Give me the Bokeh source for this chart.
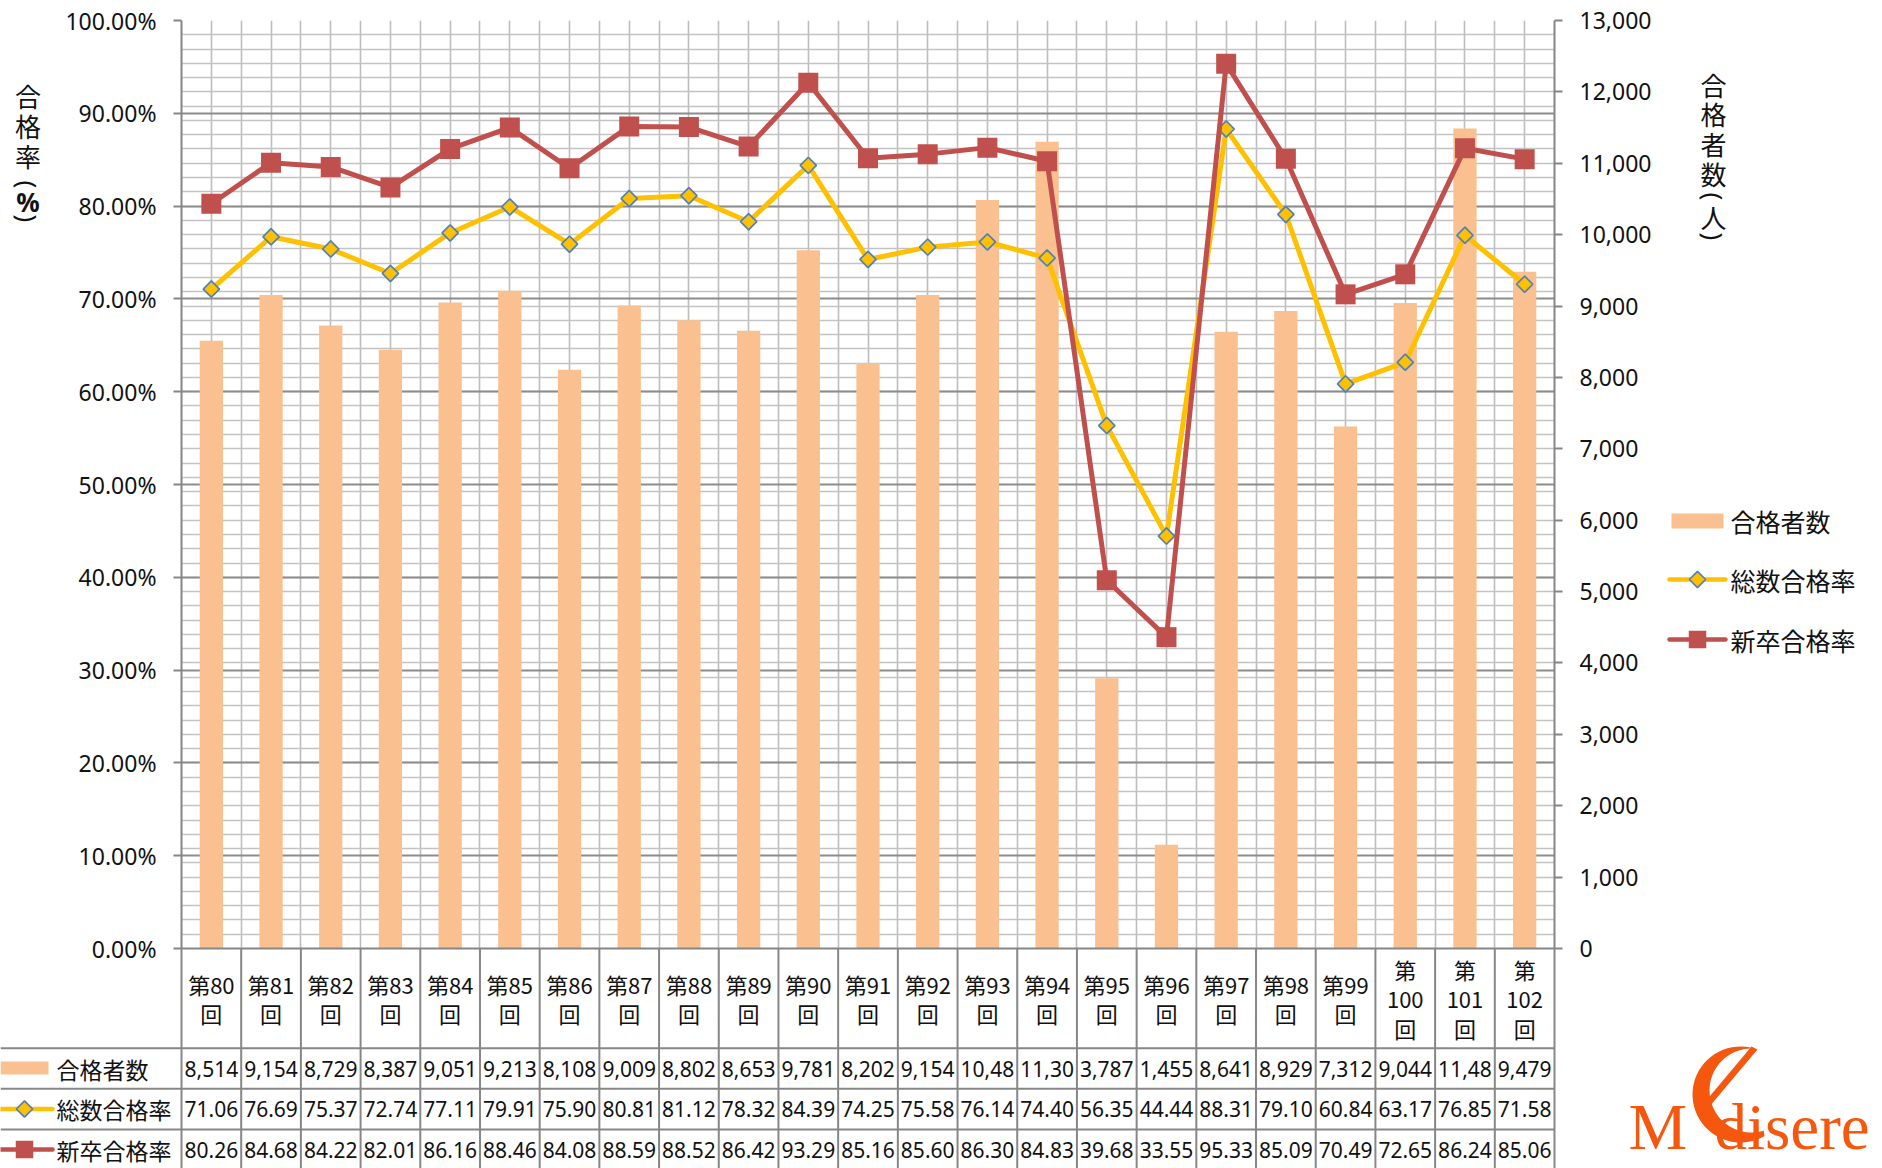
import math
from bokeh.plotting import figure
from bokeh.layouts import row, column
from bokeh.models import (Range1d, LinearAxis, FixedTicker, SingleIntervalTicker, Grid,
                          PrintfTickFormatter, NumeralTickFormatter, ColumnDataSource)
from bokeh.core.properties import value
from bokeh.embed import file_html
from bokeh.resources import INLINE

# ---------------- data ----------------
sessions = [80, 81, 82, 83, 84, 85, 86, 87, 88, 89, 90, 91, 92, 93, 94, 95, 96, 97, 98, 99, 100, 101, 102]
passers = [8514, 9154, 8729, 8387, 9051, 9213, 8108, 9009, 8802, 8653, 9781, 8202, 9154,
           10487, 11301, 3787, 1455, 8641, 8929, 7312, 9044, 11488, 9479]
total_rate = [71.06, 76.69, 75.37, 72.74, 77.11, 79.91, 75.90, 80.81, 81.12, 78.32, 84.39, 74.25,
              75.58, 76.14, 74.40, 56.35, 44.44, 88.31, 79.10, 60.84, 63.17, 76.85, 71.58]
new_rate = [80.26, 84.68, 84.22, 82.01, 86.16, 88.46, 84.08, 88.59, 88.52, 86.42, 93.29, 85.16,
            85.60, 86.30, 84.83, 39.68, 33.55, 95.33, 85.09, 70.49, 72.65, 86.24, 85.06]
series_names = ["合格者数", "総数合格率", "新卒合格率"]
left_ticks = [0, 10, 20, 30, 40, 50, 60, 70, 80, 90, 100]
right_max = 13000
right_step = 1000
right_minor_step = 200
left_title = ["合", "格", "率", "(", "%", ")"]
right_title = ["合", "格", "者", "数", "(", "人", ")"]

# ---------------- colours / layout ----------------
C_BAR = "#FAC090"
C_TOT = "#FFC000"
C_NEW = "#C0504D"
C_EDGE = "#4F81BD"
C_AX = "#868686"
C_TAB = "#878787"
C_TXT = "#111111"
C_LOGO = "#F5570F"
CJK = "Noto Sans CJK JP"
LAT = "Noto Sans"

PW, PH = 1882, 1168              # page
FL, FR, FT, FB = 181, 1554, 20, 948   # chart frame edges (page px)
LW = 60                          # left title strip width
RX = 1660                        # start of right strip
TOP_H = 976                      # height of top row
n = len(sessions)
step = (FR - FL) / n


def blank(w, h, x0, x1, y0, y1):
    f = figure(width=w, height=h, output_backend="svg", toolbar_location=None,
               x_range=Range1d(x0, x1), y_range=Range1d(y0, y1),
               x_axis_location=None, y_axis_location=None,
               min_border=0, min_border_left=0, min_border_right=0,
               min_border_top=0, min_border_bottom=0)
    f.outline_line_color = None
    f.xgrid.visible = False
    f.ygrid.visible = False
    f.background_fill_color = "white"
    f.border_fill_color = "white"
    return f


# ---------------- main chart ----------------
p = figure(width=RX - LW, height=TOP_H, output_backend="svg", toolbar_location=None,
           x_range=Range1d(-0.5, n - 0.5), y_range=Range1d(0, 100),
           min_border_left=FL - LW, min_border_right=RX - FR,
           min_border_top=FT, min_border_bottom=TOP_H - FB)
p.outline_line_color = None
p.background_fill_color = "white"
p.border_fill_color = "white"
p.extra_y_ranges = {"cnt": Range1d(0, right_max)}

p.ygrid.grid_line_color = None
p.add_layout(Grid(dimension=1, y_range_name="cnt",
                  ticker=SingleIntervalTicker(interval=right_minor_step, num_minor_ticks=0),
                  grid_line_color="#C3C3C3", grid_line_width=1.6))
p.add_layout(Grid(dimension=1, ticker=FixedTicker(ticks=left_ticks),
                  grid_line_color="#8C8C8C", grid_line_width=2))
p.xgrid.ticker = FixedTicker(ticks=[k * 0.5 - 0.5 for k in range(2 * n + 1)])
p.xgrid.grid_line_color = "#BDBDBD"
p.xgrid.grid_line_width = 1.6


def style_axis(ax):
    ax.axis_line_color = C_AX
    ax.axis_line_width = 2
    ax.major_tick_line_color = C_AX
    ax.major_tick_line_width = 2
    ax.major_tick_out = 8
    ax.major_tick_in = 0
    ax.minor_tick_out = 0
    ax.minor_tick_in = 0
    ax.major_label_text_font = LAT
    ax.major_label_text_font_size = "23px"
    ax.major_label_text_color = C_TXT
    ax.major_label_standoff = 17


ly = p.yaxis[0]
ly.ticker = FixedTicker(ticks=left_ticks)
ly.formatter = PrintfTickFormatter(format="%.2f%%")
style_axis(ly)

ry = LinearAxis(y_range_name="cnt",
                ticker=SingleIntervalTicker(interval=right_step, num_minor_ticks=0),
                formatter=NumeralTickFormatter(format="0,0"))
style_axis(ry)
p.add_layout(ry, "right")

# bottom axis: plain line only
bx = p.xaxis[0]
bx.ticker = FixedTicker(ticks=[])
bx.axis_line_color = C_AX
bx.axis_line_width = 2
bx.major_tick_line_color = None
bx.minor_tick_line_color = None
bx.major_tick_out = 0
bx.major_tick_in = 0
bx.major_label_standoff = 0

src = ColumnDataSource(dict(
    x=list(range(n)), cnt=passers, tot=total_rate, new=new_rate,
    hdr=[(f"第{s}\n回" if s < 100 else f"第\n{s}\n回") for s in sessions],
    cnt_t=[f"{v:,}"[:5] for v in passers],
    tot_t=[f"{v:.2f}" for v in total_rate],
    new_t=[f"{v:.2f}" for v in new_rate],
))

p.vbar(x="x", top="cnt", width=0.39, y_range_name="cnt", source=src,
       fill_color=C_BAR, line_color=None)
p.line("x", "tot", source=src, line_color=C_TOT, line_width=5, line_join="round")
p.scatter("x", "tot", source=src, marker="square", angle=math.pi / 4, size=11.5,
          fill_color=C_TOT, line_color=C_EDGE, line_width=1.7)
p.line("x", "new", source=src, line_color=C_NEW, line_width=5, line_join="round")
p.scatter("x", "new", source=src, marker="square", size=20,
          fill_color=C_NEW, line_color=None)

# ---------------- left title strip (frame aligned to chart frame: FT..FB) ----------------
lf = blank(LW, TOP_H, 0, LW, FB, FT)
lt_y = [95, 125, 155, 184, 201, 218]
for ch, yy in zip(left_title, lt_y):
    if ch in "()":
        lf.text(x=[27.5], y=[yy], text=[ch], angle=-math.pi / 2, text_align="center",
                text_baseline="middle", text_font=value(LAT), text_font_size=value("26px"),
                text_color=C_TXT)
    elif ch == "%":
        lf.text(x=[27.5], y=[yy], text=[ch], text_align="center", text_baseline="middle",
                text_font=value(LAT), text_font_size=value("26px"), text_font_style="bold",
                text_color=C_TXT)
    else:
        lf.text(x=[27.5], y=[yy], text=[ch], text_align="center", text_baseline="middle",
                text_font=value(CJK), text_font_size=value("26px"), text_color=C_TXT)

# ---------------- right strip: title + legend ----------------
rf = blank(PW - RX, TOP_H, RX, PW, FB, FT)
rt_y = [83.5, 112.5, 143, 172.5, 196, 216, 236]
for ch, yy in zip(right_title, rt_y):
    if ch in "()":
        rf.text(x=[1713], y=[yy], text=[ch], angle=-math.pi / 2, text_align="center",
                text_baseline="middle", text_font=value(LAT), text_font_size=value("26px"),
                text_color=C_TXT)
    else:
        rf.text(x=[1713], y=[yy], text=[ch], text_align="center", text_baseline="middle",
                text_font=value(CJK), text_font_size=value("26px"), text_color=C_TXT)

LG = [520.5, 579, 639]
rf.quad(left=[1671], right=[1723], top=[513], bottom=[528], fill_color=C_BAR, line_color=None)
rf.line(x=[1669, 1725], y=[LG[1], LG[1]], line_color=C_TOT, line_width=4.5, line_cap="round")
rf.scatter(x=[1697], y=[LG[1]], marker="square", angle=math.pi / 4, size=11.5,
           fill_color=C_TOT, line_color=C_EDGE, line_width=1.7)
rf.line(x=[1669, 1725], y=[LG[2], LG[2]], line_color=C_NEW, line_width=4.5, line_cap="round")
rf.scatter(x=[1697], y=[LG[2]], marker="square", size=17.5, fill_color=C_NEW, line_color=None)
rf.text(x=[1730] * 3, y=LG, text=series_names, text_align="left", text_baseline="middle",
        text_font=value(CJK), text_font_size=value("25px"), text_color=C_TXT)

# ---------------- data table strip (transparent, overlaps the chart's bottom border) ----------------
TB_TOP = FB
TB_H = PH - TB_TOP
tf = figure(width=PW, height=TB_H, output_backend="svg", toolbar_location=None,
            x_range=Range1d(-0.5 - FL / step, n - 0.5 + (PW - FR) / step),
            y_range=Range1d(PH, TB_TOP),
            x_axis_location=None, y_axis_location=None,
            min_border=0, min_border_left=0, min_border_right=0,
            min_border_top=0, min_border_bottom=0,
            margin=(TB_TOP - TOP_H, 0, 0, 0))
tf.outline_line_color = None
tf.xgrid.visible = False
tf.ygrid.visible = False
tf.background_fill_color = None
tf.border_fill_color = None
tf.extra_x_ranges = {"px": Range1d(0, PW)}

ROW_HDR, ROW1, ROW2, ROW3 = 998, 1068, 1108.5, 1149
vb = [i - 0.5 for i in range(n + 1)]
tf.segment(x0=vb, x1=vb, y0=[TB_TOP] * len(vb), y1=[PH + 2] * len(vb),
           line_color=C_TAB, line_width=2)
hl = [1047.7, 1088.3, 1129.0]
tf.segment(x0=[0] * 3, x1=[FR] * 3, y0=hl, y1=hl, x_range_name="px",
           line_color=C_TAB, line_width=2)

tf.text(x="x", y=ROW_HDR, text="hdr", source=src, text_align="center",
        text_baseline="middle", text_font=value(CJK), text_font_size=value("22px"),
        text_line_height=0.93, text_color=C_TXT)
for field, yy in (("cnt_t", ROW1), ("tot_t", ROW2), ("new_t", ROW3)):
    tf.text(x="x", y=yy, text=field, source=src, text_align="center",
            text_baseline="middle", text_font=value(LAT), text_font_size=value("21px"),
            text_color=C_TXT)

# row header keys
tf.quad(left=[0], right=[48], top=[1061], bottom=[1074], x_range_name="px",
        fill_color=C_BAR, line_color=None)
tf.line(x=[-4, 52], y=[ROW2, ROW2], x_range_name="px", line_color=C_TOT,
        line_width=4.5, line_cap="round")
tf.scatter(x=[24], y=[ROW2], x_range_name="px", marker="square", angle=math.pi / 4,
           size=11.5, fill_color=C_TOT, line_color=C_EDGE, line_width=1.7)
tf.line(x=[-4, 52], y=[ROW3, ROW3], x_range_name="px", line_color=C_NEW,
        line_width=4.5, line_cap="round")
tf.scatter(x=[24], y=[ROW3], x_range_name="px", marker="square", size=17.5,
           fill_color=C_NEW, line_color=None)
tf.text(x=[56] * 3, y=[ROW1, ROW2, ROW3], text=series_names, x_range_name="px",
        text_align="left", text_baseline="middle", text_font=value(CJK),
        text_font_size=value("23px"), text_color=C_TXT)

# logo
tf.text(x=[1628], y=[1126], text=["M"], x_range_name="px", text_align="left",
        text_baseline="alphabetic", text_font=value("Liberation Serif"),
        text_font_size=value("66px"), text_color=C_LOGO)
tf.text(x=[1714], y=[1126], text=["disere"], x_range_name="px", text_align="left",
        text_baseline="alphabetic", text_font=value("Liberation Serif"),
        text_font_size=value("65px"), text_color=C_LOGO)
ocx, ocy, orr = 1740, 1094, 48
icx, icy, irr = 1751, 1090, 42
cxs, cys = [], []
for k in range(41):
    t = math.radians(60 + (282 - 60) * k / 40)
    cxs.append(ocx + orr * math.cos(t))
    cys.append(ocy + orr * math.sin(t))
for k in range(41):
    t = math.radians(270 - (270 - 73) * k / 40)
    cxs.append(icx + irr * math.cos(t))
    cys.append(icy + irr * math.sin(t))
tf.patch(x=cxs, y=cys, x_range_name="px", fill_color=C_LOGO, line_color=None)
tf.patch(x=[1751, 1757, 1709, 1704], y=[1046, 1049, 1106, 1102], x_range_name="px",
         fill_color=C_LOGO, line_color=None)

layout = column(row(lf, p, rf), tf)
open("out.html", "w").write(file_html(layout, INLINE))
